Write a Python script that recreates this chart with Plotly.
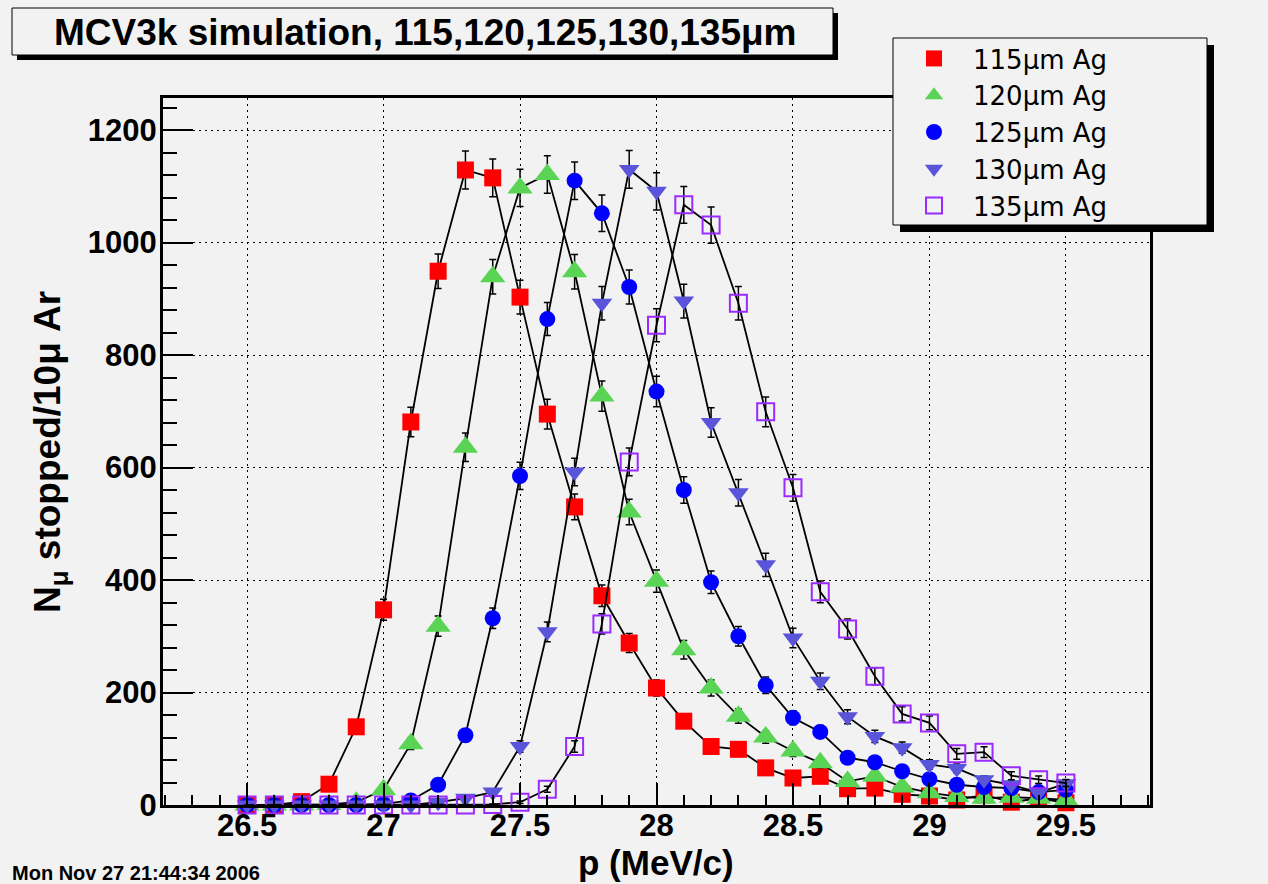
import numpy as np
import plotly.graph_objects as go

# ---------------- data ----------------
p = [26.5, 26.6, 26.7, 26.8, 26.9, 27.0, 27.1, 27.2, 27.3, 27.4,
     27.5, 27.6, 27.7, 27.8, 27.9, 28.0, 28.1, 28.2, 28.3, 28.4,
     28.5, 28.6, 28.7, 28.8, 28.9, 29.0, 29.1, 29.2, 29.3, 29.4, 29.5]

y115 = [0, 0, 6, 37, 139, 347, 681, 949, 1129, 1115,
        903, 695, 530, 372, 288, 208, 149, 104, 99, 66,
        48, 51, 29, 30, 19, 16, 9, 18, 5, 12, 4]
y120 = [0, 0, 0, 1, 5, 27, 109, 318, 636, 939,
        1097, 1121, 948, 727, 521, 398, 276, 208, 158, 121,
        96, 75, 42, 51, 32, 22, 15, 12, 14, 12, 9]
y125 = [0, 0, 0, 0, 0, 2, 8, 36, 124, 332,
        585, 864, 1110, 1052, 921, 735, 560, 396, 300, 213,
        155, 130, 84, 76, 60, 46, 36, 32, 30, 23, 27]
y130 = [0, 0, 0, 0, 0, 0, 0, 5, 12, 23,
        104, 308, 592, 892, 1130, 1091, 896, 680, 555, 427,
        297, 220, 157, 122, 102, 72, 65, 45, 36, 22, 38]
y135 = [0, 0, 0, 0, 0, 0, 0, 0, 0, 1,
        5, 28, 104, 322, 610, 853, 1067, 1031, 892, 699,
        564, 379, 313, 229, 162, 146, 91, 94, 52, 45, 39]

names = ["115μm Ag", "120μm Ag", "125μm Ag", "130μm Ag", "135μm Ag"]
values = [y115, y120, y125, y130, y135]
symbols = ["square", "triangle-up", "circle", "triangle-down", "square-open"]
colors = ["#FF0000", "#59D454", "#0000FF", "#5954D9", "#9A2BFF"]
sizes = [17, 22, 16, 18, 17]

x_ticks = [26.5, 27, 27.5, 28, 28.5, 29, 29.5]
x_ticktext = ["26.5", "27", "27.5", "28", "28.5", "29", "29.5"]
y_ticks = [0, 200, 400, 600, 800, 1000, 1200]

title_text = "MCV3k simulation, 115,120,125,130,135μm"
xtitle = "p (MeV/c)"
ytitle = "N<sub>μ</sub> stopped/10μ Ar"
date_text = "Mon Nov 27 21:44:34 2006"

# ---------------- layout helpers ----------------
W, H = 1268, 884
L, R, T, B = 163, 1150, 98, 805
BG = "#F2F2F2"
FONT = "Liberation Sans, Arial, Helvetica, sans-serif"
LEGFONT = "DejaVu Sans, Liberation Sans, sans-serif"


def px(x):
    return (x - L) / (R - L)


def py(y):
    return (B - y) / (B - T)


fig = go.Figure()
for name, ys, sym, col, sz in zip(names, values, symbols, colors, sizes):
    fig.add_trace(go.Scatter(
        x=p, y=ys, mode="lines", line=dict(color="black", width=1.8),
        showlegend=False, hoverinfo="skip", cliponaxis=False))
    mk = dict(symbol=sym, color=col, size=sz, line=dict(width=0))
    if sym.endswith("open"):
        mk["line"] = dict(width=2, color=col)
    fig.add_trace(go.Scatter(
        x=p, y=ys, mode="markers", name=name, marker=mk,
        error_y=dict(type="data", array=np.sqrt(np.array(ys, dtype=float)),
                     color="black", thickness=1.5, width=3.5),
        cliponaxis=False))

fig.update_layout(
    width=W, height=H,
    margin=dict(l=L, r=W - R, t=T, b=H - B, pad=0),
    paper_bgcolor=BG, plot_bgcolor=BG,
    font=dict(family=FONT, color="black"),
    showlegend=True,
    legend=dict(x=px(895), y=py(35), xanchor="left", yanchor="top",
                bgcolor="rgba(0,0,0,0)", borderwidth=0, itemwidth=68,
                font=dict(size=26, family=LEGFONT), itemsizing="trace"),
)

common = dict(showline=True, linewidth=3, linecolor="black", mirror=True,
              showgrid=True, gridcolor="black", gridwidth=1, griddash="2px,4px",
              zeroline=False, ticks="inside", tickcolor="black", tickwidth=1.5,
              tickfont=dict(size=31, family=FONT, weight="bold"))

fig.update_xaxes(range=[26.192, 29.808], tickvals=x_ticks, ticktext=x_ticktext,
                 ticklen=22, ticklabelstandoff=-9,
                 minor=dict(dtick=0.1, tick0=26.5, ticks="inside", ticklen=10,
                            tickwidth=1.5, tickcolor="black", showgrid=False),
                 **common)
fig.update_yaxes(range=[0, 1257], tickvals=y_ticks, ticklen=30, ticklabelstandoff=-3,
                 minor=dict(dtick=40, tick0=0, ticks="inside", ticklen=14,
                            tickwidth=1.5, tickcolor="black", showgrid=False),
                 **common)

shapes = [
    # title box shadow + box
    dict(type="rect", xref="paper", yref="paper", x0=px(17), x1=px(838), y0=py(60), y1=py(13),
         fillcolor="black", line=dict(width=0), layer="above"),
    dict(type="rect", xref="paper", yref="paper", x0=px(12), x1=px(833), y0=py(55), y1=py(8),
         fillcolor=BG, line=dict(color="black", width=1), layer="above"),
    # legend box shadow + box
    dict(type="rect", xref="paper", yref="paper", x0=px(900), x1=px(1214), y0=py(232), y1=py(45),
         fillcolor="black", line=dict(width=0), layer="above"),
    dict(type="rect", xref="paper", yref="paper", x0=px(893), x1=px(1207), y0=py(225), y1=py(38),
         fillcolor=BG, line=dict(color="black", width=1), layer="above"),
]
fig.update_layout(shapes=shapes)

annotations = [
    dict(text=title_text, xref="paper", yref="paper", x=px(425), y=py(32),
         xanchor="center", yanchor="middle", showarrow=False,
         font=dict(size=37, family=FONT, weight="bold")),
    dict(text=xtitle, xref="paper", yref="paper", x=px(656), y=py(862),
         xanchor="center", yanchor="middle", showarrow=False,
         font=dict(size=35, family=FONT, weight="bold")),
    dict(text=ytitle, xref="paper", yref="paper", x=px(50), y=py(452),
         xanchor="center", yanchor="middle", showarrow=False, textangle=-90,
         font=dict(size=37, family=FONT, weight="bold")),
    dict(text=date_text, xref="paper", yref="paper", x=px(10), y=py(873),
         xanchor="left", yanchor="middle", showarrow=False,
         font=dict(size=20, family=FONT, weight="bold")),
]
fig.update_layout(annotations=annotations)

fig.write_html(
    "out.html",
    config={"displayModeBar": False},
    post_script="document.body.style.margin='0';document.body.style.background='#F2F2F2';",
)
